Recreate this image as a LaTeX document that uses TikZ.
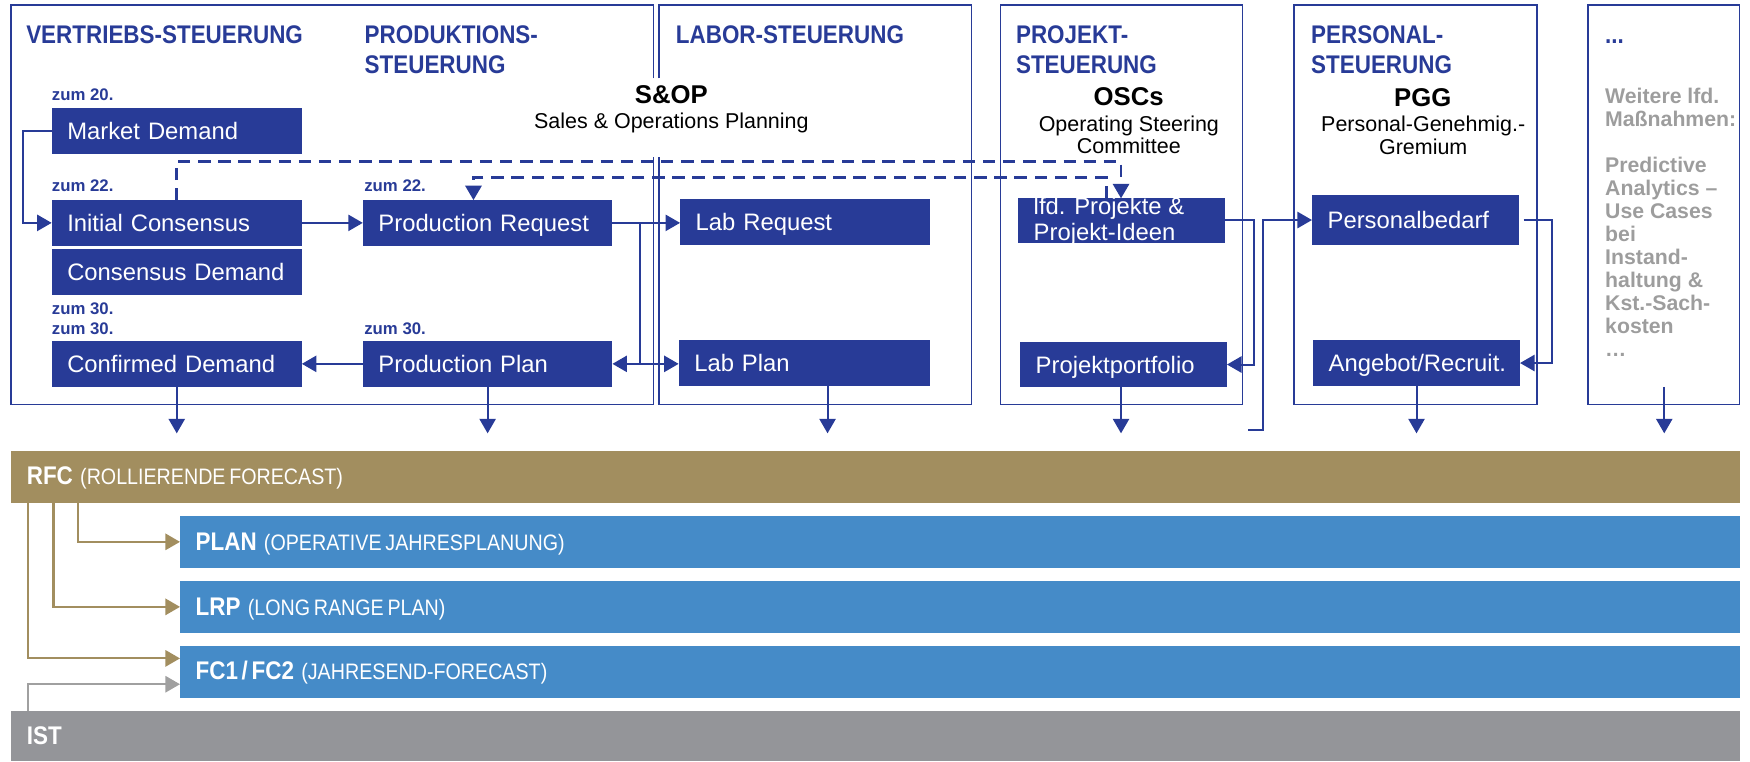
\documentclass[tikz,border=0pt]{standalone}
\usepackage{fontspec}
\setmainfont{Liberation Sans}
\newfontfamily\condf[FakeStretch=0.88]{Liberation Sans}
\usetikzlibrary{arrows.meta,calc}
\definecolor{dblue}{RGB}{40,59,151}
\definecolor{tanc}{RGB}{162,142,95}
\definecolor{bandblue}{RGB}{69,139,200}
\definecolor{istgray}{RGB}{148,149,153}
\definecolor{gtext}{RGB}{157,157,157}
\definecolor{garrow}{RGB}{160,160,160}
\begin{document}
\begin{tikzpicture}[x=1pt,y=-1pt,
 >={Triangle[length=13pt,width=14.5pt]},
 outerbox/.style={draw=dblue,line width=1.5pt,anchor=north west,inner sep=0pt,outer sep=0pt},
 framepath/.style={draw=dblue,line width=1.5pt,line join=miter},
 dbox/.style={fill=dblue,text=white,anchor=north west,inner xsep=0pt,inner ysep=0pt,outer sep=0pt,align=left,
   font=\fontsize{21.3}{23}\selectfont,text height=15.4pt,text depth=0pt,execute at begin node={\hspace*{14pt}}},
 boxtxt/.style={anchor=base west,inner sep=0pt,text=white,font=\fontsize{21.3}{23}\selectfont},
 conn/.style={draw=dblue,line width=1.8pt,->},
 dconn/.style={draw=dblue,line width=2.4pt,dash pattern=on 11pt off 7pt,->},
 tconn/.style={draw=tanc,line width=1.9pt,->},
 gconn/.style={draw=garrow,line width=1.9pt,->},
 ttl/.style={anchor=base west,inner sep=0pt,text=dblue,font=\condf\bfseries\fontsize{22.8}{26}\selectfont},
 zum/.style={anchor=base west,inner sep=0pt,text=dblue,font=\bfseries\fontsize{15}{17}\selectfont},
 headl/.style={anchor=base,inner sep=0pt,font=\bfseries\fontsize{23}{26}\selectfont},
 subhead/.style={anchor=base,inner sep=0pt,font=\fontsize{19.2}{22}\selectfont},
 graytxt/.style={anchor=base west,inner sep=0pt,text=gtext,font=\bfseries\fontsize{19}{20.6}\selectfont},
 bandbox/.style={anchor=north west,inner xsep=0pt,inner ysep=0pt,outer sep=0pt,align=left,text=white,
   text height=14.6pt,text depth=0pt,font=\condf,execute at begin node={\hspace*{14pt}}}
]
\useasboundingbox (0,0) rectangle (1565.3,680.7);

% outer frames
\draw[framepath] (584.6,70) -- (584.6,4.5) -- (9.8,4.5) -- (9.8,361.7) -- (584.6,361.7) -- (584.6,140);
\draw[framepath] (589.5,70) -- (589.5,4.5) -- (869,4.5) -- (869,361.7) -- (589.5,361.7) -- (589.5,140);
\node[outerbox,minimum width=216.5pt,minimum height=357.2pt] (B3) at (894.8,4.5) {};
\node[outerbox,minimum width=217.1pt,minimum height=357.2pt] (B4) at (1157.4,4.5) {};
\node[outerbox,minimum width=135.3pt,minimum height=357.2pt] (B5) at (1420.5,4.5) {};

% titles
\node[ttl] (t1) at (23.3,38.8) {VERTRIEBS-STEUERUNG};
\node[ttl] (t2a) at (326,38.8) {PRODUKTIONS-};
\node[ttl] (t2b) at (326,66) {STEUERUNG};
\node[ttl] (t3) at (604.4,38.8) {LABOR-STEUERUNG};
\node[ttl] (t4a) at (908.6,38.8) {PROJEKT-};
\node[ttl] (t4b) at (908.6,66) {STEUERUNG};
\node[ttl] (t5a) at (1172.6,38.8) {PERSONAL-};
\node[ttl] (t5b) at (1172.6,66) {STEUERUNG};
\node[ttl] (t6) at (1435.6,38.8) {...};

% committee headings
\node[headl] (sop) at (600.5,92.4) {S\&OP};
\node[subhead] (sopsub) at (600.5,114.8) {Sales \& Operations Planning};
\node[headl] (osc) at (1009.5,94.8) {OSCs};
\node[subhead] (osc1) at (1009.7,117.8) {Operating Steering};
\node[subhead] (osc2) at (1009.7,137) {Committee};
\node[headl] (pgg) at (1272.6,95.4) {PGG};
\node[subhead] (pgg1) at (1273,117.8) {Personal-Genehmig.-};
\node[subhead] (pgg2) at (1273,137.8) {Gremium};

% gray text
\foreach \t [count=\i from 0] in {Weitere lfd.,Maßnahmen:}
  \node[graytxt] (ga\i) at (1435.6,92.4+20.6*\i) {\t};
\foreach \t [count=\i from 0] in {Predictive,Analytics –,Use Cases,bei,Instand-,haltung \&,Kst.-Sach-,kosten,…}
  \node[graytxt] (gb\i) at (1435.6,154.2+20.6*\i) {\t};

% zum labels
\node[zum] (z1) at (46.3,89.5) {zum 20.};
\node[zum] (z2) at (46.3,171.5) {zum 22.};
\node[zum] (z3) at (325.7,171.5) {zum 22.};
\node[zum] (z4) at (46.3,281) {zum 30.};
\node[zum] (z5) at (46.3,299) {zum 30.};
\node[zum] (z6) at (325.7,299) {zum 30.};

% boxes
\node[dbox,text width=223.8pt,minimum height=41.4pt] (md) at (46.2,96.3) {Market Demand};
\node[dbox,text width=223.8pt,minimum height=40.7pt] (ic) at (46.2,179) {Initial Consensus};
\node[dbox,text width=223.8pt,minimum height=40.6pt] (cd) at (46.2,223) {Consensus Demand};
\node[dbox,text width=223.8pt,minimum height=40.9pt] (cfd) at (46.2,305) {Confirmed Demand};
\node[dbox,text width=223.3pt,minimum height=40.7pt] (pr) at (324.5,179) {Production Request};
\node[dbox,text width=223.3pt,minimum height=40.9pt] (pp) at (324.5,305) {Production Plan};
\node[dbox,text width=223.5pt,minimum height=41pt] (lr) at (608.3,178) {Lab Request};
\node[dbox,text width=224.8pt,minimum height=41.3pt] (lp) at (607,304) {Lab Plan};
\node[dbox,text width=185.7pt,minimum height=39.6pt] (lfd) at (910.3,177.4) {};
\node[boxtxt] (lfdt1) at (924.4,192.3) {lfd. Projekte \&};
\node[boxtxt] (lfdt2) at (924.4,215.3) {Projekt-Ideen};
\node[dbox,text width=185.1pt,minimum height=39.7pt] (ppf) at (912.4,306.2) {Projektportfolio};
\node[dbox,text width=185.2pt,minimum height=44.8pt] (pb) at (1173.5,174.4) {Personalbedarf};
\node[dbox,text width=185.2pt,minimum height=41.2pt] (ar) at (1174.4,304.1) {Angebot/Recruit.};

% connectors
\draw[conn] (md.west) -- ++(-25.3,0) |- (ic.west);
\draw[conn] (ic.east) -- (pr.west);
\draw[conn] (pp.west) -- (cfd.east);
\draw[conn] (pr.east) -- (lr.west |- pr.east);
\coordinate (brtop) at (572.5,199.35);
\coordinate (brbot) at (572.5,325.45);
\draw[draw=dblue,line width=1.8pt] (brtop) -- (brbot);
\draw[conn,<->] (pp.east) -- (lp.west |- pp.east);
\draw[dconn] ([xshift=111.5pt]ic.north west) -- ++(0,-34.4) -| ([xshift=92.4pt]lfd.north west);
\draw[dconn] ([xshift=79.6pt]lfd.north west) -- ++(0,-18.5) -| ([xshift=99pt]pr.north west);
\draw[conn] (lfd.east) -- ++(25.7,0) |- (ppf.east);
\draw[conn] ([xshift=4pt]pb.east) -- ++(25.2,0) |- (ar.east);
\coordinate (pfree) at (1116.6,384.3);
\draw[conn] (pfree) -- ++(13.4,0) |- (pb.west);

% down arrows
\draw[conn] (cfd.south) -- ++(0,41.7);
\draw[conn] (pp.south) -- ++(0,41.7);
\draw[conn] ([xshift=133.2pt]lp.south west) -- ++(0,42.3);
\draw[conn] ([xshift=90.3pt]ppf.south west) -- ++(0,41.7);
\draw[conn] (ar.south) -- ++(0,42.3);
\coordinate (dotsarrow) at (1488.6,346);
\draw[conn] (dotsarrow) -- ++(0,41.6);

% bands
\node[bandbox,fill=tanc,text width=1546.4pt,minimum height=46.2pt] (rfc) at (10,403.4)
  {{\bfseries\fontsize{22.8}{26}\selectfont RFC}\hspace{6.5pt}{\fontsize{20}{22}\selectfont(ROLLIERENDE FORECAST)}};
\node[bandbox,fill=bandblue,text width=1395.4pt,minimum height=46.3pt] (plan) at (161,461.5)
  {{\bfseries\fontsize{22.8}{26}\selectfont PLAN}\hspace{6.5pt}{\fontsize{20}{22}\selectfont(OPERATIVE JAHRESPLANUNG)}};
\node[bandbox,fill=bandblue,text width=1395.4pt,minimum height=46.2pt] (lrp) at (161,519.7)
  {{\bfseries\fontsize{22.8}{26}\selectfont LRP}\hspace{6.5pt}{\fontsize{20}{22}\selectfont(LONG RANGE PLAN)}};
\node[bandbox,fill=bandblue,text width=1395.4pt,minimum height=46.2pt] (fc) at (161,577.8)
  {{\bfseries\fontsize{22.8}{26}\selectfont FC1 / FC2}\hspace{6.5pt}{\fontsize{20}{22}\selectfont(JAHRESEND-FORECAST)}};
\node[bandbox,fill=istgray,text width=1546.4pt,minimum height=44.7pt] (ist) at (10,636)
  {{\bfseries\fontsize{22.8}{26}\selectfont IST}};

\draw[tconn] ([xshift=59.9pt]rfc.south west) |- (plan.west);
\draw[tconn] ([xshift=37.9pt]rfc.south west) |- (lrp.west);
\draw[tconn] ([xshift=15.2pt]rfc.south west) |- ([yshift=12pt]fc.west);
\draw[gconn] ([xshift=15.2pt]ist.north west) |- ([yshift=-11.1pt]fc.west);
\end{tikzpicture}
\end{document}
